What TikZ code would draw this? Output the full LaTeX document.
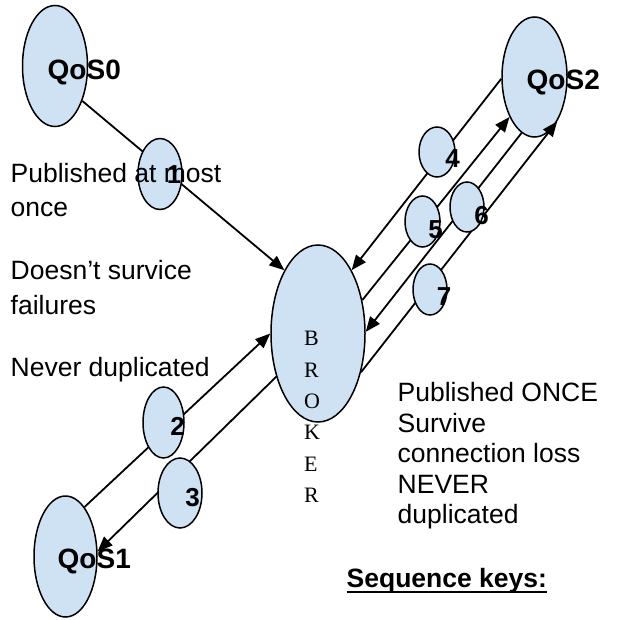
\documentclass[tikz,border=0pt]{standalone}
\usepackage{fontspec}
\setmainfont{Liberation Sans}
\newfontfamily\brokerfont{Liberation Serif}
\usetikzlibrary{shapes.geometric,arrows.meta}
\definecolor{bubble}{RGB}{207,226,243}
\begin{document}
\begin{tikzpicture}[x=1pt,y=-1pt,
  bub/.style={ellipse,draw=black,fill=bubble,line width=1.5pt,inner sep=0pt},
  arr/.style={line width=1.8pt,-{Triangle[length=15pt,width=12pt]}},
  qlbl/.style={inner sep=0pt,anchor=base west,font=\fontsize{28}{28}\selectfont\bfseries},
  num/.style={inner sep=0pt,anchor=base,font=\fontsize{26}{26}\selectfont\bfseries},
  txt/.style={inner sep=0pt,anchor=base west,font=\fontsize{26.5}{26.5}\selectfont},
  brk/.style={inner sep=0pt,anchor=base west,font=\fontsize{22}{22}\selectfont\brokerfont}]
\useasboundingbox (0,0) rectangle (618,620);
% big ellipses
\node[bub,minimum width=65pt,minimum height=121pt] (qos0) at (55,66) {};
\node[bub,minimum width=65pt,minimum height=120pt] (qos2) at (534.5,77) {};
\node[bub,minimum width=63pt,minimum height=121pt] (qos1) at (65.5,556.5) {};
\node[bub,minimum width=94pt,minimum height=177pt] (broker) at (318,333.5) {};
% connectors
\draw[arr] (qos0.-52) -- (broker.118);
\draw[arr] (qos2.183) -- (broker.62);
\draw[arr] (broker.37) -- (qos2.238);
\draw[arr] (qos2.257) -- (broker.2);
\draw[arr] (broker.-42) -- (qos2.-63);
\draw[arr] (qos1.69) -- (broker.180);
\draw[arr] (broker.226) -- (qos1.9);
% small ellipses
\node[bub,minimum width=44pt,minimum height=71pt] (e1) at (160,174) {};
\node[bub,minimum width=41pt,minimum height=71pt] (e2) at (163.5,422.5) {};
\node[bub,minimum width=44pt,minimum height=70pt] (e3) at (180,493) {};
\node[bub,minimum width=36pt,minimum height=50pt] (e4) at (437,152) {};
\node[bub,minimum width=35pt,minimum height=51pt] (e5) at (422.5,221.5) {};
\node[bub,minimum width=34pt,minimum height=50pt] (e6) at (467,207) {};
\node[bub,minimum width=34pt,minimum height=51pt] (e7) at (430,289.5) {};
% labels
\node[qlbl] (l0) at (47.5,80) {QoS0};
\node[qlbl] (l2) at (526.5,90) {QoS2};
\node[qlbl] (l1) at (57.5,568) {QoS1};
\node[txt] (p1) at (10.5,183) {Published at most};
\node[txt] (p2) at (10.5,217) {once};
\node[txt] (p3) at (10.5,279) {Doesn’t survice};
\node[txt] (p4) at (10.5,314) {failures};
\node[txt] (p5) at (10.5,376) {Never duplicated};
\node[num] (n1) at (174,184) {1};
\node[num] (n2) at (177.5,435) {2};
\node[num] (n3) at (192.5,506) {3};
\node[num] (n4) at (452.5,168) {4};
\node[num] (n5) at (435.5,238) {5};
\node[num] (n6) at (481.5,224) {6};
\node[num] (n7) at (444,305) {7};
\node[brk] (b1) at (304,345) {B};
\node[brk] (b2) at (304,377) {R};
\node[brk] (b3) at (304,408) {O};
\node[brk] (b4) at (304,439) {K};
\node[brk] (b5) at (304,471) {E};
\node[brk] (b6) at (304,502) {R};
\node[txt] (r1) at (397.5,401) {Published ONCE};
\node[txt] (r2) at (397.5,432) {Survive};
\node[txt] (r3) at (397.5,462) {connection loss};
\node[txt] (r4) at (397.5,493) {NEVER};
\node[txt] (r5) at (397.5,523) {duplicated};
\node[txt,font=\fontsize{26.5}{26.5}\selectfont\bfseries] (sk) at (346.5,587) {Sequence keys:};
\draw[line width=1.8pt] ([yshift=-5pt]sk.base west) -- ([yshift=-5pt]sk.base east);
\end{tikzpicture}
\end{document}
